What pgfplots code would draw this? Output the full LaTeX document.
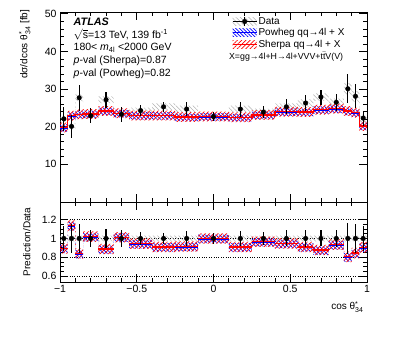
\documentclass[border=0pt]{standalone}
\usepackage{fontspec}
\setmainfont{Liberation Sans}
\usepackage{amsmath}
\usepackage{pgfplots}
\usepackage{pgfplotstable}
\pgfplotsset{compat=1.18}
\usepgfplotslibrary{fillbetween}
\usetikzlibrary{patterns.meta}

% lo = left bin edge (last row closes the step at x=1), c = bin centre
\pgfplotstableread{
lo     c       d     e    ud   s     us   p     up   o  rr     rs     rp     rus    rup    rud
-1.00  -0.975  22.1  3.2  0.8  19.8  1.3  19.7  1.0  1  0.13   0.895  0.890  0.055  0.045  0.03
-0.95  -0.925  20.1  3.0  0.8  22.9  1.3  22.8  1.0  1  0.15   1.137  1.132  0.055  0.045  0.03
-0.90  -0.875  27.7  3.4  0.9  23.3  1.3  23.2  1.0  1  0.15   0.840  0.835  0.055  0.045  0.03
-0.85  -0.800  22.9  2.0  0.8  23.4  1.3  23.3  1.0  1  0.09   1.020  1.015  0.055  0.045  0.03
-0.75  -0.700  27.2  2.1  0.9  24.2  1.3  24.1  1.0  1  0.10   0.888  0.883  0.055  0.045  0.03
-0.65  -0.600  23.3  2.0  0.8  23.6  1.3  23.5  1.0  1  0.09   1.013  1.008  0.055  0.045  0.03
-0.55  -0.475  24.3  1.5  0.8  23.0  1.3  22.9  1.0  1  0.07   0.945  0.940  0.055  0.045  0.03
-0.40  -0.325  25.3  1.3  0.9  23.0  1.3  22.9  1.0  1  0.06   0.910  0.905  0.055  0.045  0.03
-0.25  -0.175  24.7  1.8  0.9  22.6  1.3  22.5  1.0  1  0.075  0.915  0.910  0.055  0.045  0.03
-0.10   0.000  22.7  1.3  0.8  22.7  1.3  22.6  1.0  1  0.06   1.000  0.995  0.055  0.045  0.03
 0.10   0.175  24.7  2.0  0.9  22.5  1.3  22.4  1.0  1  0.08   0.910  0.905  0.055  0.045  0.03
 0.25   0.325  23.9  1.5  0.9  23.1  1.3  23.0  1.0  1  0.07   0.965  0.960  0.055  0.045  0.03
 0.40   0.475  25.3  2.0  0.9  24.0  1.3  23.9  1.0  1  0.085  0.948  0.943  0.055  0.045  0.03
 0.55   0.600  26.3  2.2  1.0  23.9  1.3  23.8  1.0  1  0.09   0.910  0.905  0.055  0.045  0.03
 0.65   0.700  27.9  2.0  1.0  24.5  1.3  24.4  1.0  1  0.085  0.877  0.872  0.055  0.045  0.03
 0.75   0.800  26.5  2.2  1.0  24.8  1.3  24.7  1.0  1  0.09   0.935  0.930  0.055  0.045  0.03
 0.85   0.875  30.1  3.8  1.5  24.2  1.3  24.1  1.0  1  0.16   0.805  0.800  0.055  0.045  0.03
 0.90   0.925  28.1  3.2  1.4  23.7  1.3  23.6  1.0  1  0.15   0.845  0.840  0.055  0.045  0.03
 0.95   0.975  22.3  2.0  1.0  20.2  1.3  20.1  1.0  1  0.13   0.905  0.900  0.055  0.045  0.03
 1.00   nan    22.3  2.0  1.0  20.2  1.3  20.1  1.0  1  0.13   0.905  0.900  0.055  0.045  0.03
}\bins

\tikzset{
  hatchR/.style={draw=none, pattern={Lines[angle=45,distance=3pt,line width=0.7pt]}, pattern color=red},
  hatchB/.style={draw=none, pattern={Lines[angle=-45,distance=2.5pt,line width=0.7pt]}, pattern color=blue},
  hatchG/.style={draw=none, pattern={Lines[angle=-45,distance=3pt,line width=0.5pt]}, pattern color=gray!60},
}

\pgfplotsset{
  atlas/.style={
    scale only axis, width=307pt,
    xmin=-1, xmax=1,
    tick align=inside, xtick pos=both, ytick pos=both,
    major tick length=8pt, minor tick length=4pt,
    xtick={-1,-0.5,0,0.5,1}, minor x tick num=4,
    axis line style={line width=0.8pt},
    every tick/.style={black, line width=0.8pt},
    tick label style={font=\fontsize{10.5}{12}\selectfont},
    /pgf/number format/assume math mode=true,
    label style={font=\fontsize{10.5}{12}\selectfont},
  },
  dataerr/.style={only marks, mark=*, mark size=2.3pt, black,
    error bars/y dir=both, error bars/y explicit, error bars/error mark=none,
    error bars/error bar style={line width=1.2pt, black}},
}

\begin{document}
\begin{tikzpicture}

% ---------------- upper panel ----------------
\begin{axis}[atlas, at={(0,80pt)}, anchor=south west, height=190pt,
  ymin=0, ymax=50.5, ytick={10,20,30,40,50}, minor y tick num=4,
  xticklabels={},
  ylabel={dσ/dcos θ$_{\text{34}}^{\text{*}}$ [fb]},
  every axis y label/.style={at={(axis description cs:-0.115,1.03)}, rotate=90, anchor=east},
  legend style={draw=none, fill=none, at={(axis description cs:0.55,0.99)}, anchor=north west,
    font=\fontsize{10}{12}\selectfont, nodes={inner sep=1.2pt}, row sep=0.3pt},
  legend cell align=left,
]
\addplot[const plot, draw=none, name path=gU, forget plot] table[x=lo, y expr=\thisrow{d}+\thisrow{ud}] {\bins};
\addplot[const plot, draw=none, name path=gL, forget plot] table[x=lo, y expr=\thisrow{d}-\thisrow{ud}] {\bins};
\addplot[hatchG, forget plot] fill between[of=gU and gL];
\addplot[const plot, draw=none, name path=bU, forget plot] table[x=lo, y expr=\thisrow{p}+\thisrow{up}] {\bins};
\addplot[const plot, draw=none, name path=bL, forget plot] table[x=lo, y expr=\thisrow{p}-\thisrow{up}] {\bins};
\addplot[hatchB, forget plot] fill between[of=bU and bL];
\addplot[const plot, draw=none, name path=rU, forget plot] table[x=lo, y expr=\thisrow{s}+\thisrow{us}] {\bins};
\addplot[const plot, draw=none, name path=rL, forget plot] table[x=lo, y expr=\thisrow{s}-\thisrow{us}] {\bins};
\addplot[hatchR, forget plot] fill between[of=rU and rL];
\addplot[const plot, blue, line width=1.3pt, forget plot] table[x=lo, y=p] {\bins};
\addplot[const plot, red, line width=1.3pt, forget plot] table[x=lo, y=s] {\bins};
\addplot[forget plot, dataerr] table[x=c, y=d, y error=e] {\bins};

\addlegendimage{legend image code/.code={
  \path[hatchG] (0pt,-4pt) rectangle (24pt,4pt);
  \draw[black, line width=1.1pt] (0pt,0pt) -- (24pt,0pt);
  \draw[black, line width=1.1pt] (12pt,-4.5pt) -- (12pt,4.5pt);
  \fill[black] (12pt,0pt) circle (2.3pt);}}
\addlegendentry{Data}
\addlegendimage{legend image code/.code={
  \path[hatchB] (0pt,-4pt) rectangle (24pt,4pt);
  \draw[blue, line width=1.3pt] (0pt,0pt) -- (24pt,0pt);}}
\addlegendentry{Powheg qq→4l + X}
\addlegendimage{legend image code/.code={
  \path[hatchR] (0pt,-4pt) rectangle (24pt,4pt);
  \draw[red, line width=1.3pt] (0pt,0pt) -- (24pt,0pt);}}
\addlegendentry{Sherpa qq→4l + X}

\node[anchor=west, font=\fontsize{8.8}{10}\selectfont, inner sep=1pt] at (axis description cs:0.547,0.762)
  {X=gg→4l+H→4l+VVV+t\ensuremath{\bar{\text{t}}}V(V)};

\node[anchor=west, font=\fontsize{10.8}{12}\selectfont\bfseries\itshape] at (axis description cs:0.033,0.949) {ATLAS};
\node[anchor=west, font=\fontsize{10.5}{12}\selectfont] at (axis description cs:0.033,0.880) {$\sqrt{\text{s}}$=13 TeV, 139 fb\textsuperscript{-1}};
\node[anchor=west, font=\fontsize{10.5}{12}\selectfont] at (axis description cs:0.033,0.812) {180< \textit{m}\textsubscript{4l} <2000 GeV};
\node[anchor=west, font=\fontsize{10.5}{12}\selectfont] at (axis description cs:0.033,0.742) {\textit{p}-val (Sherpa)=0.87};
\node[anchor=west, font=\fontsize{10.5}{12}\selectfont] at (axis description cs:0.033,0.674) {\textit{p}-val (Powheg)=0.82};
\end{axis}

% ---------------- ratio panel ----------------
\begin{axis}[atlas, at={(0,0)}, anchor=south west, height=80pt,
  ymin=0.538, ymax=1.387, ytick={0.6,0.8,1,1.2}, minor y tick num=3,
  yticklabels={0.6,0.8,1,1.2},
  xticklabels={−1,−0.5,0,0.5,1},
  ymajorgrids, major grid style={black, dotted, line width=0.6pt},
  ylabel={Prediction/Data},
  every axis y label/.style={at={(axis description cs:-0.108,0.5)}, rotate=90, anchor=center},
  xlabel={cos θ$_{\text{34}}^{\text{*}}$},
  every axis x label/.style={at={(axis description cs:1,-0.2)}, anchor=north east},
]
\addplot[const plot, draw=none, name path=gU, forget plot] table[x=lo, y expr=\thisrow{o}+\thisrow{rud}] {\bins};
\addplot[const plot, draw=none, name path=gL, forget plot] table[x=lo, y expr=\thisrow{o}-\thisrow{rud}] {\bins};
\addplot[hatchG, forget plot] fill between[of=gU and gL];
\addplot[const plot, draw=none, name path=bU, forget plot] table[x=lo, y expr=\thisrow{rp}+\thisrow{rup}] {\bins};
\addplot[const plot, draw=none, name path=bL, forget plot] table[x=lo, y expr=\thisrow{rp}-\thisrow{rup}] {\bins};
\addplot[hatchB, forget plot] fill between[of=bU and bL];
\addplot[const plot, draw=none, name path=rU, forget plot] table[x=lo, y expr=\thisrow{rs}+\thisrow{rus}] {\bins};
\addplot[const plot, draw=none, name path=rL, forget plot] table[x=lo, y expr=\thisrow{rs}-\thisrow{rus}] {\bins};
\addplot[hatchR, forget plot] fill between[of=rU and rL];
\addplot[jump mark left, blue, line width=1.3pt, forget plot] table[x=lo, y=rp] {\bins};
\addplot[jump mark left, red, line width=1.3pt, forget plot] table[x=lo, y=rs] {\bins};
\addplot[forget plot, dataerr] table[x=c, y=o, y error=rr] {\bins};
\end{axis}
\path (-60pt,-55pt) rectangle (339pt,282pt);
\end{tikzpicture}
\end{document}
